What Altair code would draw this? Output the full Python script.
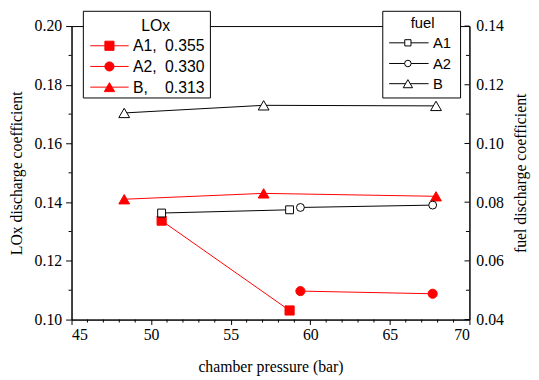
import altair as alt
import pandas as pd

# ---------------- data ----------------
pressure_A1 = [50.66, 58.70]
pressure_A2 = [59.38, 67.69]
pressure_B = [48.31, 57.07, 67.90]

lox_A1 = [0.1337, 0.1031]
lox_A2 = [0.1097, 0.1088]
lox_B = [0.1410, 0.1430, 0.1420]

fuel_A1 = [0.0763, 0.0774]
fuel_A2 = [0.0782, 0.0790]
fuel_B = [0.1104, 0.1130, 0.1128]

lox_names = ["A1,", "A2,", "B,"]
lox_ratios = ["0.355", "0.330", "0.313"]
fuel_names = ["A1", "A2", "B"]

x_ticks = [45, 50, 55, 60, 65, 70]
x_minor = [46, 47, 48, 49, 51, 52, 53, 54, 56, 57, 58, 59,
           61, 62, 63, 64, 66, 67, 68, 69]
lox_ticks = [0.10, 0.12, 0.14, 0.16, 0.18, 0.20]
lox_minor = [0.11, 0.13, 0.15, 0.17, 0.19]
fuel_ticks = [0.04, 0.06, 0.08, 0.10, 0.12, 0.14]
fuel_minor = [0.05, 0.07, 0.09, 0.11, 0.13]

# ---------------- style ----------------
W, H = 404, 298
SERIF = "Liberation Serif"
SANS = "Liberation Sans"
RED = "#ff0000"
BLACK = "#000000"

x_scale = alt.Scale(domain=[45, 70], nice=False, zero=False)
lox_scale = alt.Scale(domain=[0.10, 0.20], nice=False, zero=False)
fuel_scale = alt.Scale(domain=[0.04, 0.14], nice=False, zero=False)

x_axis = alt.Axis(values=x_ticks, format="d", title="chamber pressure (bar)",
                  tickSize=5, labelPadding=2, titleY=52.5,
                  titleBaseline="alphabetic")
lox_axis = alt.Axis(orient="left", values=lox_ticks, format=".2f",
                    title="LOx discharge coefficient", tickSize=6,
                    labelPadding=4, titleAngle=270, titleX=-51,
                    titleBaseline="alphabetic")
fuel_axis = alt.Axis(orient="right", values=fuel_ticks, format=".2f",
                     title="fuel discharge coefficient", ticks=False,
                     tickSize=0, labelPadding=6.5, titleAngle=270,
                     titleX=57, titleBaseline="alphabetic")


def series(px, vals, y_scale, y_axis, color, shape, fill, size):
    d = pd.DataFrame({"p": px, "c": vals})
    base = alt.Chart(d).encode(
        x=alt.X("p:Q", scale=x_scale, axis=x_axis),
        y=alt.Y("c:Q", scale=y_scale, axis=y_axis),
    )
    line = base.mark_line(color=color, strokeWidth=1)
    pts = base.mark_point(shape=shape, filled=True, fill=fill, stroke=color,
                          strokeWidth=1, size=size, opacity=1, fillOpacity=1)
    return [line, pts]


dummy = alt.Data(values=[{"k": 0}])

# ---------------- LOx group (left axis) ----------------
lox_layers = []
lox_layers += series(pressure_A1, lox_A1, lox_scale, lox_axis, RED, "square", RED, 86)
lox_layers += series(pressure_A2, lox_A2, lox_scale, lox_axis, RED, "circle", RED, 86)
lox_layers += series(pressure_B, lox_B, lox_scale, lox_axis, RED, "triangle-up", RED, 120)

lox_layers.append(
    alt.Chart(pd.DataFrame({"c": lox_minor})).mark_rule(color=BLACK, strokeWidth=1).encode(
        y=alt.Y("c:Q", scale=lox_scale, axis=lox_axis),
        x=alt.value(0), x2=alt.value(-3))
)
lox_layers.append(
    alt.Chart(pd.DataFrame({"p": x_minor})).mark_rule(color=BLACK, strokeWidth=1).encode(
        x=alt.X("p:Q", scale=x_scale, axis=x_axis),
        y=alt.value(H), y2=alt.value(H + 3))
)
left_group = alt.layer(*lox_layers)

# ---------------- fuel group (right axis) ----------------
fuel_layers = []
fuel_layers += series(pressure_A1, fuel_A1, fuel_scale, fuel_axis, BLACK, "square", "white", 64)
fuel_layers += series(pressure_A2, fuel_A2, fuel_scale, fuel_axis, BLACK, "circle", "white", 64)
fuel_layers += series(pressure_B, fuel_B, fuel_scale, fuel_axis, BLACK, "triangle-up", "white", 120)

fuel_layers.append(
    alt.Chart(pd.DataFrame({"c": fuel_ticks})).mark_rule(color=BLACK, strokeWidth=1).encode(
        y=alt.Y("c:Q", scale=fuel_scale, axis=fuel_axis),
        x=alt.value(W), x2=alt.value(W - 5))
)
fuel_layers.append(
    alt.Chart(pd.DataFrame({"c": fuel_minor})).mark_rule(color=BLACK, strokeWidth=1).encode(
        y=alt.Y("c:Q", scale=fuel_scale, axis=fuel_axis),
        x=alt.value(W), x2=alt.value(W - 3.5))
)

# ---------------- legends (drawn on top) ----------------
def box(x1, x2, y1, y2):
    return alt.Chart(dummy).mark_rect(fill="white", stroke=BLACK, strokeWidth=1).encode(
        x=alt.value(x1), x2=alt.value(x2), y=alt.value(y1), y2=alt.value(y2))


def label(txt, x, y, size, align="left"):
    return alt.Chart(dummy).mark_text(font=SANS, fontSize=size, align=align,
                                      baseline="middle", color=BLACK).encode(
        x=alt.value(x), y=alt.value(y), text=alt.value(txt))


def hline(x1, x2, y, color):
    return alt.Chart(dummy).mark_rule(color=color, strokeWidth=1).encode(
        x=alt.value(x1), x2=alt.value(x2), y=alt.value(y))


def symbol(x, y, shape, fill, stroke, size):
    return alt.Chart(dummy).mark_point(shape=shape, filled=True, fill=fill, stroke=stroke,
                                       strokeWidth=1, size=size, opacity=1, fillOpacity=1).encode(
        x=alt.value(x), y=alt.value(y))


legend_layers = []
# LOx legend
legend_layers.append(box(12, 141, -15, 73))
legend_layers.append(label("LOx", 85.5, -0.5, 16, align="center"))
lox_rows = [20, 41, 62]
lox_shapes = [("square", 86), ("circle", 86), ("triangle-up", 110)]
for i, yy in enumerate(lox_rows):
    legend_layers.append(hline(19, 58, yy, RED))
    legend_layers.append(symbol(38.5, yy, lox_shapes[i][0], RED, RED, lox_shapes[i][1]))
    legend_layers.append(label(lox_names[i], 62.5, yy + 0.5, 16))
    legend_layers.append(label(lox_ratios[i], 95, yy + 0.5, 16))

# fuel legend
legend_layers.append(box(316, 395, -15, 73))
legend_layers.append(label("fuel", 356.5, -3.5, 15, align="center"))
fuel_rows = [17, 38, 58.5]
fuel_shapes = [("square", 40), ("circle", 44), ("triangle-up", 90)]
for i, yy in enumerate(fuel_rows):
    legend_layers.append(hline(322.5, 362.5, yy, BLACK))
    legend_layers.append(symbol(341.5, yy, fuel_shapes[i][0], "white", BLACK, fuel_shapes[i][1]))
    legend_layers.append(label(fuel_names[i], 367, yy + 0.5, 15))

right_group = alt.layer(*(fuel_layers + legend_layers))

chart = (
    alt.layer(left_group, right_group)
    .resolve_scale(y="independent")
    .properties(
        width=W, height=H,
        padding={"left": 64.5, "top": 15.5, "right": 62.5, "bottom": 58.5},
        autosize=alt.AutoSizeParams(type="none"),
    )
    .configure_view(stroke=BLACK, strokeWidth=1)
    .configure_axis(
        labelFont=SERIF, labelFontSize=16, titleFont=SERIF, titleFontSize=16,
        titleFontWeight="normal", labelColor=BLACK, titleColor=BLACK,
        domainColor=BLACK, tickColor=BLACK, grid=False, domainWidth=1, tickWidth=1,
    )
)

chart.save("out.html", embed_options={"renderer": "svg", "actions": False})
